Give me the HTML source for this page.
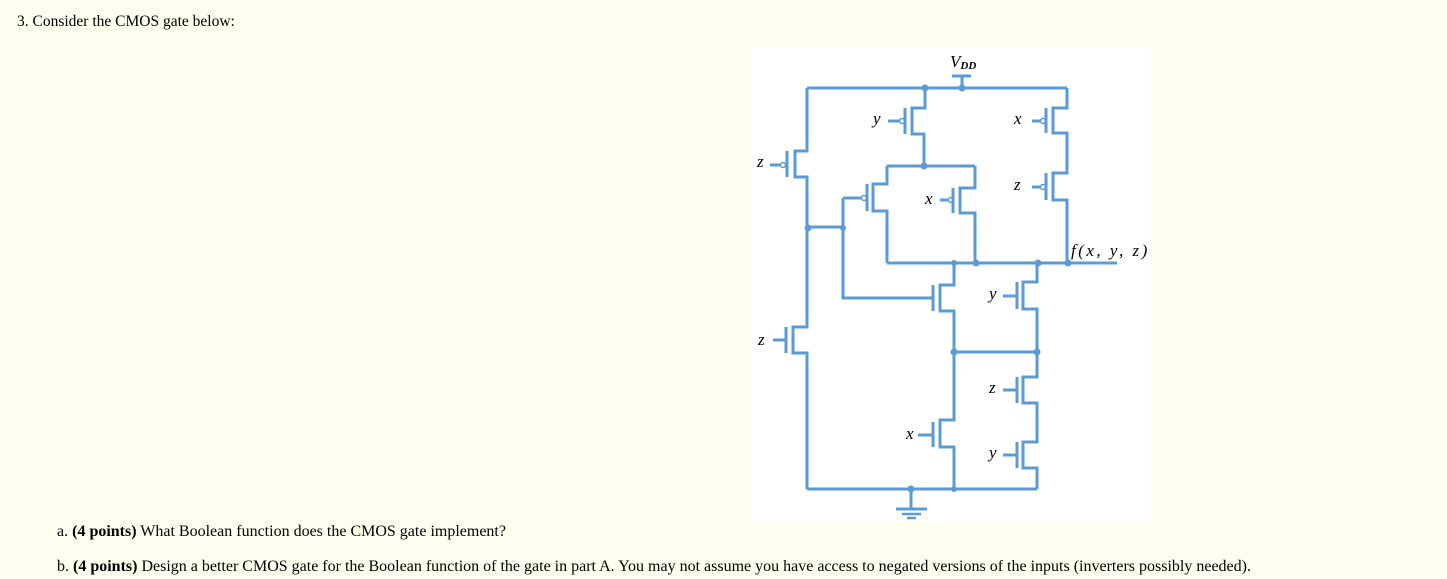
<!DOCTYPE html>
<html><head><style>
body{margin:0;background:#fffff0;width:1447px;height:579px;overflow:hidden;position:relative;font-family:"Liberation Serif",serif;font-size:16px;color:#000}
.t{position:absolute;white-space:nowrap}
svg{position:absolute;left:0;top:0}
</style></head><body>
<div class="t" style="left:17px;top:13px;font-size:15.5px">3. Consider the CMOS gate below:</div>
<div class="t" style="left:57px;top:523px">a. <b>(4 points)</b> What Boolean function does the CMOS gate implement?</div>
<div class="t" style="left:57px;top:558px">b. <b>(4 points)</b> Design a better CMOS gate for the Boolean function of the gate in part A. You may not assume you have access to negated versions of the inputs (inverters possibly needed).</div>
<svg width="1447" height="579" viewBox="0 0 1447 579">
<rect x="752" y="48" width="399" height="474" fill="#fff"/>
<g fill="none" stroke="#5b9bd5" stroke-width="3">
<path d="M807 88H1067M962 88V76M952 76H971"/>
<path d="M807 88V151H795V177H807V327H793V353H807V489"/>
<path d="M787 151V177M770 165H780"/><circle cx="783" cy="165" r="2.5" stroke-width="1.5"/>
<path d="M786 327V353M773 340H786"/>
<path d="M925 88V108H912V134H924V166"/>
<path d="M905 108V134M888 121H899"/><circle cx="902" cy="121" r="2.5" stroke-width="1.5"/>
<path d="M887 166H975"/>
<path d="M887 166V184H873V211H887V263"/>
<path d="M867 184V211M843 198H861"/><circle cx="864" cy="198" r="2.5" stroke-width="1.5"/>
<path d="M843 198V298H933M808 227H843"/>
<path d="M975 166V188H960V213H975V263"/>
<path d="M953 188V213M940 200H948"/><circle cx="951" cy="200" r="2.5" stroke-width="1.5"/>
<path d="M1067 88V108H1053V133H1067V173H1053V200H1067V263"/>
<path d="M1046 108V133M1032 121H1040M1046 173V200M1032 187H1040"/>
<circle cx="1043" cy="121" r="2.5" stroke-width="1.5"/><circle cx="1043" cy="187" r="2.5" stroke-width="1.5"/>
<path d="M887 263H1117"/>
<path d="M954 263V285H940V311H954V420H940V447H954V489"/>
<path d="M933 285V311M933 422V447M918 435H933"/>
<path d="M954 352H1037"/>
<path d="M1037 263V282H1023V309H1037V377H1023V403H1037V442H1023V468H1037V489"/>
<path d="M1017 282V309M1003 296H1017M1017 377V403M1003 390H1017M1017 442V468M1003 455H1017"/>
<path d="M807 489H1037M911 489V509M896 509H927"/>
<path d="M902 514H921M907 518H916" stroke-width="2.5"/>
</g>
<g fill="#5b9bd5">
<circle cx="925" cy="88" r="3.5"/><circle cx="962" cy="88" r="3.5"/>
<circle cx="924" cy="166" r="3.5"/><circle cx="808" cy="228" r="3.5"/><circle cx="843" cy="228" r="3"/>
<circle cx="954" cy="263" r="3"/><circle cx="976" cy="263" r="3.5"/><circle cx="1038" cy="263" r="3.5"/><circle cx="1068" cy="263" r="3.5"/>
<circle cx="954" cy="352" r="3.5"/><circle cx="1037" cy="352" r="3.5"/>
<circle cx="911" cy="489" r="3.5"/><circle cx="954" cy="489" r="3"/>
</g>
<g font-family="Liberation Serif,serif" font-style="italic" font-size="17" fill="#000">
<text x="950" y="67">V<tspan font-size="11" font-weight="bold" dy="2">DD</tspan></text>
<text x="873" y="124">y</text>
<text x="1014" y="124">x</text>
<text x="757" y="167">z</text>
<text x="1014" y="190">z</text>
<text x="925" y="204">x</text>
<text x="1071" y="256" font-size="17" letter-spacing="2.5">f(x, y, z)</text>
<text x="989" y="299">y</text>
<text x="758" y="345">z</text>
<text x="989" y="393">z</text>
<text x="906" y="439">x</text>
<text x="989" y="458">y</text>
</g>
</svg>
</body></html>
